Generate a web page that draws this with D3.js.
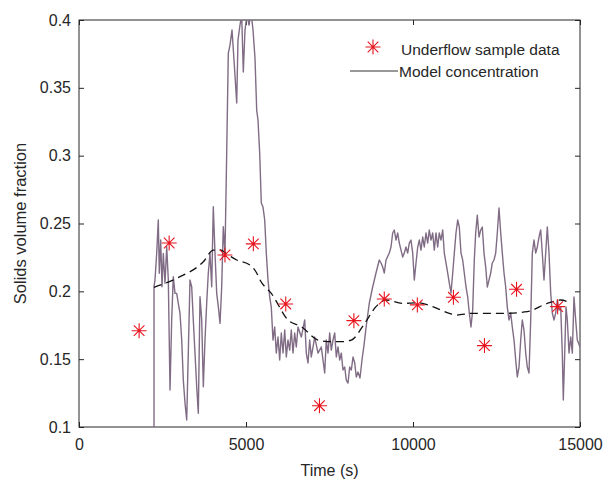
<!DOCTYPE html>
<meta charset="utf-8">
<style>
  body { margin: 0; background: #fff; }
  text { font-family: "Liberation Sans", Arial, sans-serif; fill: #262626; }
</style>
<svg width="606" height="482"></svg>
<script src="https://d3js.org/d3.v7.min.js"></script>
<script>

// Underflow sample data (red asterisks)
var sampleTime = [1800, 2700, 4370, 5220, 6190, 7200, 8230, 9140, 10130, 11210, 12140, 13100, 14330];
var sampleFraction = [0.171, 0.2356, 0.2268, 0.235, 0.1907, 0.1157, 0.1784, 0.1943, 0.190, 0.1956, 0.160, 0.2015, 0.1887];

// Model concentration (noisy trace)
var modelTime = [2246, 2246, 2275, 2326, 2374, 2404, 2446, 2485, 2524, 2575, 2626, 2674, 2725, 2775, 2823, 2874, 2925, 2973, 3024, 3075,
  3123, 3174, 3225, 3272, 3323, 3374, 3422, 3473, 3524, 3572, 3623, 3674, 3722, 3772, 3823, 3871, 3922, 3973, 4021, 4072,
  4123, 4171, 4222, 4272, 4320, 4371, 4422, 4470, 4521, 4581, 4641, 4722, 4760, 4820, 4871, 4919, 4970, 5030, 5090, 5150,
  5210, 5269, 5320, 5359, 5410, 5458, 5509, 5560, 5608, 5659, 5710, 5757, 5808, 5859, 5907, 5958, 6009, 6057, 6108, 6159,
  6207, 6257, 6308, 6356, 6407, 6458, 6506, 6557, 6656, 6758, 6805, 6856, 6907, 6955, 7057, 7156, 7254, 7356, 7404, 7455,
  7506, 7554, 7605, 7656, 7704, 7754, 7805, 7853, 7904, 7955, 8003, 8054, 8105, 8153, 8204, 8255, 8302, 8353, 8413, 8473,
  8533, 8593, 8692, 8793, 8892, 8991, 9042, 9093, 9141, 9192, 9290, 9341, 9392, 9440, 9491, 9542, 9590, 9641, 9692, 9740,
  9790, 9841, 9889, 9940, 9991, 10039, 10090, 10141, 10189, 10239, 10290, 10338, 10389, 10440, 10488, 10539, 10590, 10638, 10689, 10739,
  10787, 10838, 10889, 10937, 10988, 11039, 11087, 11138, 11189, 11237, 11287, 11338, 11386, 11437, 11488, 11536, 11587, 11638, 11686, 11736,
  11787, 11835, 11877, 11925, 11976, 12027, 12075, 12126, 12177, 12225, 12275, 12326, 12374, 12425, 12476, 12524, 12575, 12626, 12674, 12725,
  12775, 12823, 12874, 12925, 12973, 13024, 13075, 13123, 13174, 13225, 13272, 13323, 13374, 13422, 13473, 13524, 13572, 13623, 13674, 13722,
  13772, 13823, 13871, 13922, 13973, 14021, 14072, 14123, 14171, 14222, 14272, 14320, 14371, 14422, 14470, 14500, 14542, 14581, 14620, 14671,
  14722, 14770, 14820, 14871, 14919, 15000];
var modelFraction = [0.100, 0.2034, 0.2083, 0.2280, 0.2526, 0.2133, 0.2378, 0.2034, 0.2280, 0.2059, 0.2329, 0.2083, 0.1273, 0.1789, 0.2108, 0.1985, 0.1985, 0.1912, 0.1838, 0.1641,
  0.1346, 0.1175, 0.1052, 0.1543, 0.2083, 0.2034, 0.1789, 0.1543, 0.1297, 0.1101, 0.1960, 0.1789, 0.1297, 0.1641, 0.1912, 0.2133, 0.2280, 0.2034, 0.2624, 0.2280,
  0.1985, 0.1887, 0.1764, 0.2034, 0.2476, 0.2280, 0.3017, 0.3754, 0.3815, 0.3926, 0.3705, 0.3388, 0.3852, 0.3963, 0.4036, 0.3616, 0.3926, 0.4040, 0.3963, 0.4060,
  0.3926, 0.3720, 0.3336, 0.3263, 0.3019, 0.2651, 0.2621, 0.2526, 0.2282, 0.2083, 0.1958, 0.1884, 0.1641, 0.1737, 0.1545, 0.1663, 0.1494, 0.1693, 0.1545, 0.1715,
  0.1516, 0.1641, 0.1567, 0.1715, 0.1545, 0.1693, 0.1590, 0.1737, 0.1663, 0.1789, 0.1545, 0.1472, 0.1641, 0.1516, 0.1663, 0.1545, 0.1590, 0.1398, 0.1641, 0.1545,
  0.1693, 0.1567, 0.1641, 0.1693, 0.1516, 0.1590, 0.1494, 0.1545, 0.1420, 0.1442, 0.1346, 0.1324, 0.1442, 0.1420, 0.1516, 0.1472, 0.1369, 0.1405, 0.1361, 0.1494,
  0.1604, 0.1730, 0.1914, 0.2032, 0.2135, 0.2231, 0.2209, 0.2179, 0.2135, 0.2231, 0.2282, 0.2327, 0.2430, 0.2452, 0.2378, 0.2430, 0.2356, 0.2304, 0.2253, 0.2282,
  0.2327, 0.2282, 0.2356, 0.2378, 0.2282, 0.2083, 0.2209, 0.2327, 0.2378, 0.2304, 0.2400, 0.2327, 0.2430, 0.2356, 0.2452, 0.2378, 0.2430, 0.2304, 0.2430, 0.2327,
  0.2430, 0.2378, 0.2452, 0.2282, 0.2209, 0.2135, 0.2061, 0.1988, 0.2135, 0.2282, 0.2430, 0.2526, 0.2474, 0.2282, 0.2231, 0.2135, 0.2032, 0.1958, 0.1840, 0.1737,
  0.1862, 0.2231, 0.2430, 0.2562, 0.2400, 0.2452, 0.2474, 0.2282, 0.2179, 0.2032, 0.2083, 0.2135, 0.2209, 0.2231, 0.2282, 0.2430, 0.2614, 0.2430, 0.2282, 0.2135,
  0.2032, 0.1884, 0.1789, 0.1840, 0.1737, 0.1641, 0.1494, 0.1369, 0.1442, 0.1641, 0.1789, 0.1715, 0.1545, 0.1442, 0.1398, 0.1789, 0.2282, 0.2378, 0.2282, 0.2327,
  0.2400, 0.2452, 0.2282, 0.2083, 0.2282, 0.2474, 0.2282, 0.1988, 0.1840, 0.1789, 0.1840, 0.1936, 0.1862, 0.1884, 0.1545, 0.1199, 0.1545, 0.1884, 0.1789, 0.1545,
  0.1663, 0.1545, 0.1958, 0.1789, 0.1641, 0.1590];

// Smoothed model (dashed black line, not in legend)
var smoothTime = [2245, 2925, 3722, 4021, 4222, 4470, 4722, 5120, 5320, 5420, 5758, 6257, 6656, 7156, 7554, 7853, 8153, 8554, 8892, 9192,
  9692, 10141, 10590, 11087, 11287, 11787, 12725, 13422, 14021, 14422, 14700];
var smoothFraction = [0.203, 0.2096, 0.2218, 0.2304, 0.2305, 0.2268, 0.2231, 0.2194, 0.2135, 0.2083, 0.1985, 0.1789, 0.174, 0.1641, 0.1629, 0.1629, 0.1641, 0.1764, 0.1887, 0.1936,
  0.1911, 0.1916, 0.1887, 0.1838, 0.1825, 0.1838, 0.1838, 0.185, 0.1911, 0.1936, 0.1916];

var xTicks = [0, 5000, 10000, 15000];
var yTicks = [0.1, 0.15, 0.2, 0.25, 0.3, 0.35, 0.4];

var svg = d3.select("svg"),
    margin = {top: 20, right: 26, bottom: 55, left: 79},
    width = +svg.attr("width") - margin.left - margin.right,
    height = +svg.attr("height") - margin.top - margin.bottom,
    g = svg.append("g").attr("transform", "translate(" + margin.left + "," + margin.top + ")");

var x = d3.scaleLinear().domain([0, 15000]).range([0, width]);
var y = d3.scaleLinear().domain([0.1, 0.4]).range([height, 0]);

svg.append("clipPath").attr("id", "plot")
  .append("rect").attr("width", width).attr("height", height);

// axes: ticks pointing inwards, box on all four sides
function styleAxis(sel) {
  sel.select(".domain").remove();
  sel.selectAll(".tick line").attr("stroke", "#262626");
  sel.selectAll(".tick text").style("font-size", "16px").attr("fill", "#262626");
}

g.append("g")
    .attr("transform", "translate(0," + height + ")")
    .call(d3.axisBottom(x).tickValues(xTicks).tickFormat(d3.format("d")).tickSizeInner(-5).tickPadding(12))
    .call(styleAxis);
g.append("g")
    .call(d3.axisTop(x).tickValues(xTicks).tickSizeInner(-5).tickFormat(""))
    .call(styleAxis);
g.append("g")
    .call(d3.axisLeft(y).tickValues(yTicks).tickFormat(d3.format("")).tickSizeInner(-5).tickPadding(8))
    .call(styleAxis);
g.append("g")
    .attr("transform", "translate(" + width + ",0)")
    .call(d3.axisRight(y).tickValues(yTicks).tickSizeInner(-5).tickFormat(""))
    .call(styleAxis);

g.append("rect")
    .attr("width", width).attr("height", height)
    .attr("fill", "none").attr("stroke", "#262626").attr("stroke-width", 1);

// model concentration
var modelData = modelTime.map(function(t, i) { return [t, modelFraction[i]]; });
var line = d3.line().x(function(d) { return x(d[0]); }).y(function(d) { return y(d[1]); });

g.append("path")
    .datum(modelData)
    .attr("clip-path", "url(#plot)")
    .attr("fill", "none")
    .attr("stroke", "#806c85")
    .attr("stroke-width", 1.4)
    .attr("stroke-linejoin", "round")
    .attr("d", line);

// smoothed dashed
var smoothData = smoothTime.map(function(t, i) { return [t, smoothFraction[i]]; });
g.append("path")
    .datum(smoothData)
    .attr("fill", "none")
    .attr("stroke", "#111")
    .attr("stroke-width", 1.3)
    .attr("stroke-dasharray", "8,5")
    .attr("d", d3.line().curve(d3.curveMonotoneX).x(function(d) { return x(d[0]); }).y(function(d) { return y(d[1]); }));

// asterisk marker: plus and cross
function asterisk(r) {
  var p = d3.path(), s = r * Math.SQRT1_2;
  p.moveTo(-r, 0); p.lineTo(r, 0);
  p.moveTo(0, -r); p.lineTo(0, r);
  p.moveTo(-s, -s); p.lineTo(s, s);
  p.moveTo(-s, s); p.lineTo(s, -s);
  return p.toString();
}

g.selectAll(".sample")
  .data(sampleTime)
  .enter().append("path")
    .attr("class", "sample")
    .attr("transform", function(d, i) { return "translate(" + x(d) + "," + y(sampleFraction[i]) + ")"; })
    .attr("d", asterisk(7.5))
    .attr("fill", "none")
    .attr("stroke", "#e8141e")
    .attr("stroke-width", 1.1);

// axis labels
svg.append("text")
    .attr("x", margin.left + width / 2)
    .attr("y", 476)
    .attr("text-anchor", "middle")
    .style("font-size", "16px")
    .text("Time (s)");

svg.append("text")
    .attr("transform", "translate(26," + (margin.top + height / 2) + ") rotate(-90)")
    .attr("text-anchor", "middle")
    .style("font-size", "16.5px")
    .text("Solids volume fraction");

// legend
var legend = svg.append("g");
legend.append("path")
    .attr("transform", "translate(373,47)")
    .attr("d", asterisk(7.5))
    .attr("fill", "none")
    .attr("stroke", "#e8141e")
    .attr("stroke-width", 1.1);
legend.append("text")
    .attr("x", 401).attr("y", 55)
    .style("font-size", "15.5px")
    .text("Underflow sample data");
legend.append("line")
    .attr("x1", 350).attr("x2", 398)
    .attr("y1", 71).attr("y2", 71)
    .attr("stroke", "#333").attr("stroke-width", 1);
legend.append("text")
    .attr("x", 399).attr("y", 77)
    .style("font-size", "15.5px")
    .text("Model concentration");

</script>
